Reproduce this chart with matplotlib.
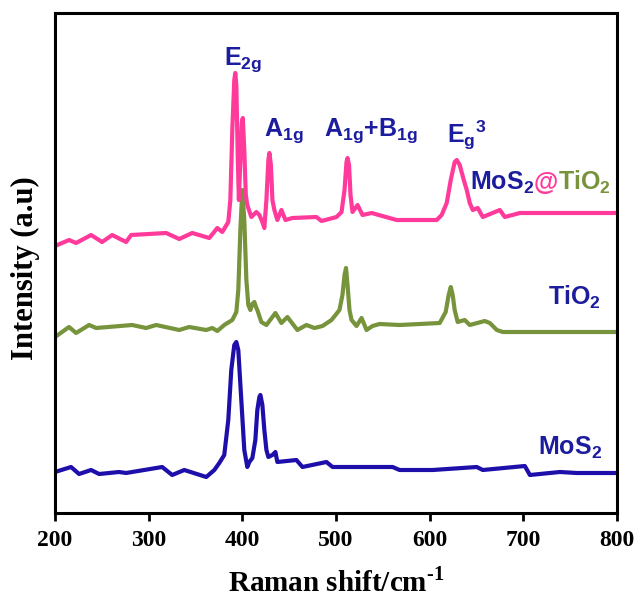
import matplotlib
matplotlib.use("Agg")
import matplotlib.pyplot as plt

plt.rcParams['mathtext.fontset'] = 'custom'
plt.rcParams['mathtext.bf'] = 'Liberation Sans:bold'
plt.rcParams['mathtext.rm'] = 'Liberation Serif:bold'
plt.rcParams['mathtext.it'] = 'Liberation Sans:bold'

# ---- data (Raman shift in cm^-1, intensity in arbitrary offset units) ----
mos2_tio2_x = [200.0, 215.0, 222.5, 238.5, 250.3, 261.0, 275.9, 281.3, 318.7, 332.6,
               346.5, 364.7, 373.3, 378.6, 385.0, 387.2, 389.3, 391.4, 392.5, 393.6,
               395.2, 396.3, 397.9, 399.5, 400.5, 402.1, 403.7, 405.3, 409.6, 415.0,
               418.2, 421.4, 423.5, 425.7, 427.8, 428.9, 430.5, 432.1, 434.2, 437.4,
               441.7, 446.0, 453.5, 479.1, 484.5, 500.6, 505.9, 509.1, 511.2, 512.3,
               513.9, 515.5, 517.6, 523.0, 528.3, 538.0, 564.7, 607.5, 612.8, 618.2,
               622.5, 626.7, 628.9, 632.1, 636.4, 639.6, 642.8, 646.0, 651.3, 656.7,
               674.9, 680.2, 696.3, 800.0]
mos2_tio2_y = [267, 273, 270, 278, 271, 278, 271, 278, 280, 274,
               280, 275, 285, 281, 291, 313, 383, 433, 440, 428,
               353, 313, 353, 391, 395, 363, 318, 308, 296, 301,
               298, 291, 285, 313, 353, 360, 348, 313, 303, 293,
               303, 293, 295, 296, 292, 296, 301, 323, 351, 355,
               348, 318, 301, 308, 298, 300, 293, 293, 298, 310,
               333, 351, 353, 348, 333, 323, 310, 303, 305, 296,
               303, 296, 300, 300]

tio2_x = [200.0, 215.0, 222.5, 236.4, 243.9, 282.4, 297.3, 308.0, 332.6, 343.3,
          361.5, 367.9, 373.3, 380.7, 389.3, 393.6, 395.7, 397.9, 400.0, 402.1,
          404.3, 406.4, 408.6, 410.7, 412.8, 415.0, 416.0, 420.3, 425.7, 435.3,
          441.7, 448.1, 458.8, 468.4, 477.0, 485.6, 495.2, 503.7, 506.9, 509.1,
          510.7, 512.3, 514.4, 516.6, 521.9, 527.3, 532.6, 539.0, 546.5, 567.9,
          610.7, 617.1, 620.3, 622.5, 624.6, 626.7, 629.9, 637.4, 642.8, 658.8,
          664.2, 671.7, 678.1, 717.6, 800.0]
tio2_y = [176, 186, 180, 188, 185, 188, 185, 188, 183, 186,
          183, 185, 182, 188, 193, 201, 223, 283, 323, 293,
          233, 208, 203, 209, 211, 205, 203, 191, 188, 200,
          190, 196, 183, 188, 185, 187, 193, 203, 218, 238,
          245, 228, 203, 193, 187, 195, 183, 187, 189, 188,
          190, 201, 218, 226, 218, 203, 191, 193, 188, 192,
          190, 183, 181, 181, 181]

mos2_x = [200.0, 217.1, 225.7, 238.5, 247.1, 268.4, 275.9, 314.4, 325.1, 338.0,
          361.5, 370.1, 375.4, 380.7, 385.0, 388.2, 391.4, 393.6, 395.7, 398.9,
          402.1, 405.3, 407.5, 410.7, 413.9, 416.0, 418.2, 419.3, 421.4, 423.5,
          425.7, 427.8, 432.1, 435.3, 437.4, 457.7, 464.2, 489.8, 496.3, 560.4,
          567.9, 603.2, 650.3, 656.7, 701.6, 707.0, 739.0, 757.2, 800.0]
mos2_y = [41, 46, 39, 43, 39, 41, 40, 46, 38, 43,
          36, 43, 50, 58, 93, 143, 168, 171, 163, 113,
          63, 46, 51, 55, 73, 103, 116, 118, 108, 83,
          63, 56, 58, 61, 51, 53, 46, 51, 46, 46,
          43, 43, 46, 43, 47, 38, 41, 40, 40]

xticks = [200, 300, 400, 500, 600, 700, 800]

PINK = '#FF3A9B'
GREEN = '#77933C'
BLUE = '#1F0FAA'
NAVY = '#1C1C9E'

fig = plt.figure(figsize=(6.35, 6.0), dpi=100)
ax = fig.add_axes([55/635, 1-513/600, 562/635, 500/600])

lw = 3.0
ax.plot(mos2_x, mos2_y, color=BLUE, lw=lw, solid_joinstyle='round', solid_capstyle='round')
ax.plot(tio2_x, tio2_y, color=GREEN, lw=lw, solid_joinstyle='round', solid_capstyle='round')
ax.plot(mos2_tio2_x, mos2_tio2_y, color=PINK, lw=lw, solid_joinstyle='round', solid_capstyle='round')

ax.set_xlim(200, 800)
ax.set_ylim(0, 500)
ax.set_xticks(xticks)
ax.set_xticklabels([str(t) for t in xticks], fontfamily='Liberation Serif',
                   fontweight='bold', fontsize=17)
ax.set_yticks([])
ax.tick_params(axis='x', direction='out', length=6, width=2, pad=6)
for s in ax.spines.values():
    s.set_linewidth(2.2)

ax.set_xlabel('Raman shift/cm$^{\\text{-}\\mathrm{1}}$', fontfamily='Liberation Serif',
              fontweight='bold', fontsize=21, labelpad=12)
fig.text(25/635, 1-268/600, 'Intensity (a.u)', rotation=90, ha='center', va='center',
         fontfamily='Liberation Serif', fontweight='bold', fontsize=22)

tk = dict(fontfamily='Liberation Sans', fontweight='bold', fontsize=18,
          ha='left', va='baseline')
ax.text(380.7, 448, 'E$_{\\mathbf{2g}}$', color=NAVY, **tk)
ax.text(423.5, 377, 'A$_{\\mathbf{1g}}$', color=NAVY, **tk)
ax.text(487.7, 377, 'A$_{\\mathbf{1g}}$+B$_{\\mathbf{1g}}$', color=NAVY, **tk)
ax.text(618.2, 370, 'E$_{\\mathbf{g}}$$^{\\mathbf{3}}$', color=NAVY, **tk)

# multi-coloured composite label, pieces placed one after another
pieces = [('MoS$_{\\mathbf{2}}$', NAVY), ('@', PINK), ('TiO$_{\\mathbf{2}}$', GREEN)]
xcur = 642.8
fig.canvas.draw()
renderer = fig.canvas.get_renderer()
for s, c in pieces:
    t = ax.text(xcur, 323, s, color=c, **tk)
    bb = t.get_window_extent(renderer=renderer)
    xcur = ax.transData.inverted().transform((bb.x1, bb.y0))[0]

ax.text(726.2, 208, 'TiO$_{\\mathbf{2}}$', color=NAVY, **tk)
ax.text(715.5, 58, 'MoS$_{\\mathbf{2}}$', color=NAVY, **tk)

fig.savefig('out.png', dpi=100)
